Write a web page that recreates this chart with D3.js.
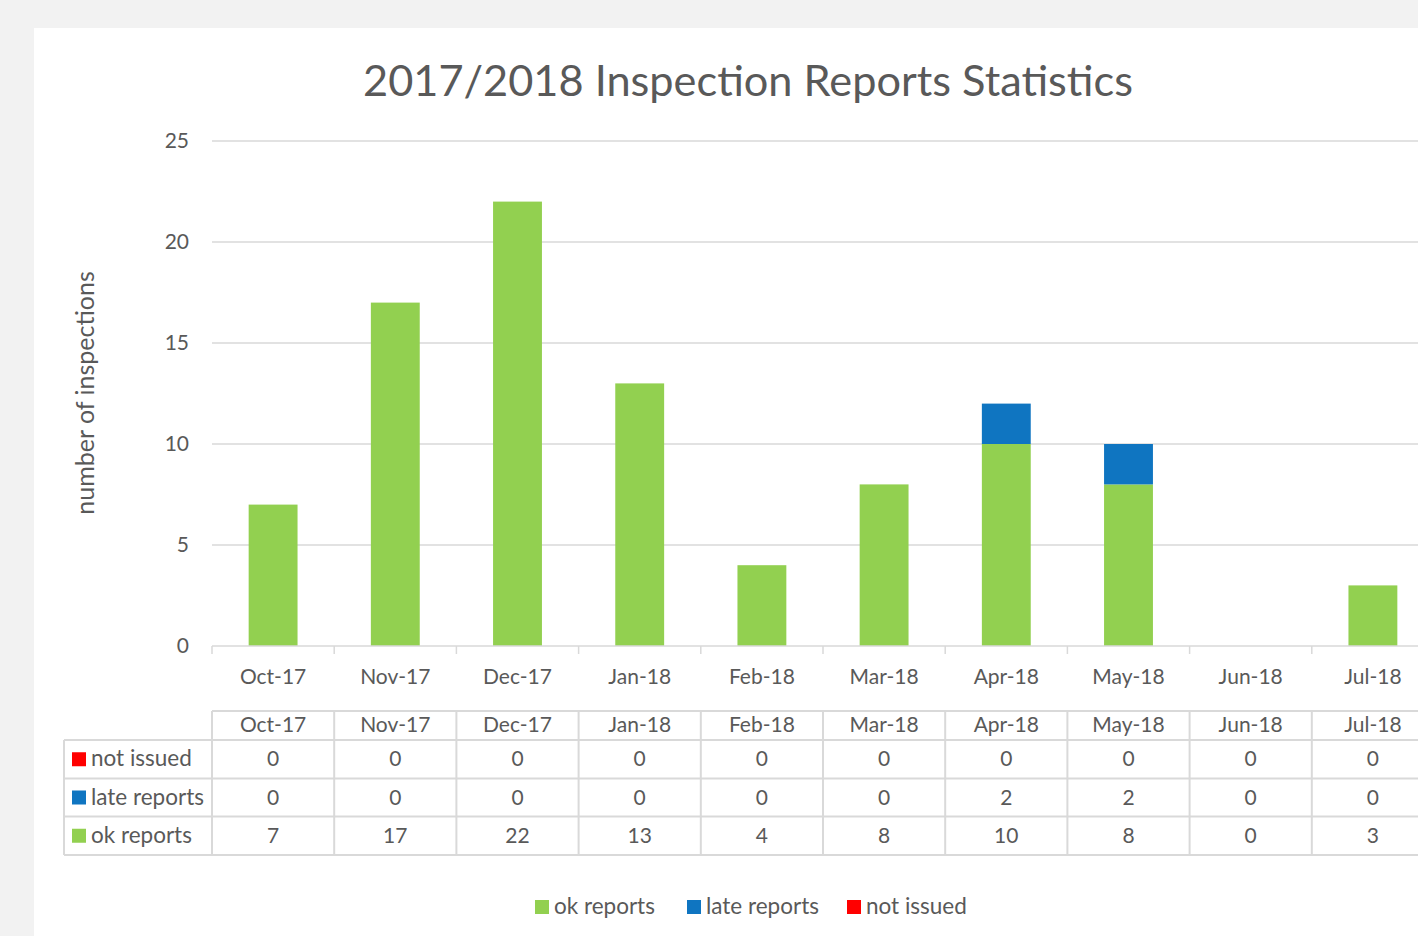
<!DOCTYPE html>
<html>
<head>
<meta charset="utf-8">
<script src="https://cdn.jsdelivr.net/npm/d3@7"></script>
<style>
  body { margin: 0; background: #f2f2f2; font-family: Lato, "Open Sans", sans-serif; }
  svg { display: block; }
</style>
</head>
<body>
<script>
// data
const months = ["Oct-17", "Nov-17", "Dec-17", "Jan-18", "Feb-18", "Mar-18", "Apr-18", "May-18", "Jun-18", "Jul-18"];
const okReports = [7, 17, 22, 13, 4, 8, 10, 8, 0, 3];
const lateReports = [0, 0, 0, 0, 0, 0, 2, 2, 0, 0];
const notIssued = [0, 0, 0, 0, 0, 0, 0, 0, 0, 0];
const yTicks = [0, 5, 10, 15, 20, 25];

const seriesNames = ["ok reports", "late reports", "not issued"];
const seriesColors = ["#92d050", "#0f75c1", "#ff0000"];

const w = 1418, h = 936;
const textColor = "#595959";
const gridColor = "#d9d9d9";

const rows = months.map((m, i) => ({
  month: m, "ok reports": okReports[i], "late reports": lateReports[i], "not issued": notIssued[i]
}));

const svg = d3.select("body").append("svg")
  .attr("width", w).attr("height", h);

// white chart panel
svg.append("rect")
  .attr("x", 34).attr("y", 28)
  .attr("width", w - 34).attr("height", h - 28)
  .attr("fill", "white");

const bandW = 122.2;
const x = d3.scaleBand()
  .domain(months)
  .range([212, 212 + bandW * months.length])
  .paddingInner(0.6).paddingOuter(0.3);
const y = d3.scaleLinear().domain([0, 25]).range([646, 141]);

// title
svg.append("text")
  .attr("x", 748).attr("y", 96)
  .attr("text-anchor", "middle")
  .attr("fill", textColor)
  .attr("font-size", 43.3)
  .text("2017/2018 Inspection Reports Statistics");

// grid lines
svg.append("g").selectAll("line")
  .data(yTicks.filter(d => d > 0))
  .join("line")
  .attr("x1", 212).attr("x2", w)
  .attr("y1", d => y(d)).attr("y2", d => y(d))
  .attr("stroke", gridColor).attr("stroke-width", 1.5);

// y axis
const yAxis = svg.append("g")
  .attr("transform", "translate(212,0)")
  .call(d3.axisLeft(y).tickValues(yTicks).tickSize(0).tickPadding(23));
yAxis.select(".domain").remove();
yAxis.selectAll("text")
  .attr("fill", textColor)
  .attr("font-size", 21)
  .attr("font-family", "Lato, sans-serif");

svg.append("text")
  .attr("transform", "translate(94,393) rotate(-90)")
  .attr("text-anchor", "middle")
  .attr("fill", textColor)
  .attr("font-size", 25)
  .text("number of inspections");

// stacked bars
const stack = d3.stack().keys(seriesNames)(rows);
svg.append("g").selectAll("g")
  .data(stack)
  .join("g")
  .attr("fill", (d, i) => seriesColors[i])
  .selectAll("rect")
  .data(d => d)
  .join("rect")
  .attr("x", d => x(d.data.month))
  .attr("width", x.bandwidth())
  .attr("y", d => y(d[1]))
  .attr("height", d => y(d[0]) - y(d[1]));

// x axis line and boundary ticks
const bounds = d3.range(months.length + 1).map(i => 212 + i * bandW);
svg.append("line")
  .attr("x1", 212).attr("x2", w)
  .attr("y1", y(0)).attr("y2", y(0))
  .attr("stroke", gridColor).attr("stroke-width", 1.5);
svg.append("g").selectAll("line")
  .data(bounds.filter(b => b <= w))
  .join("line")
  .attr("x1", d => d).attr("x2", d => d)
  .attr("y1", y(0)).attr("y2", y(0) + 8)
  .attr("stroke", gridColor).attr("stroke-width", 1.5);

const xCenter = m => x(m) + x.bandwidth() / 2;
svg.append("g").selectAll("text")
  .data(months)
  .join("text")
  .attr("x", d => xCenter(d))
  .attr("y", 684)
  .attr("text-anchor", "middle")
  .attr("fill", textColor)
  .attr("font-size", 21)
  .text(d => d);

// data table
const tableRows = [
  { name: "not issued", values: notIssued, color: seriesColors[2] },
  { name: "late reports", values: lateReports, color: seriesColors[1] },
  { name: "ok reports", values: okReports, color: seriesColors[0] }
];
const rowEdges = [711, 740, 778.5, 816.5, 855];
const table = svg.append("g");

// horizontal lines
table.selectAll("line.h")
  .data(rowEdges)
  .join("line")
  .attr("class", "h")
  .attr("x1", (d, i) => i === 0 ? 212 : 64).attr("x2", w)
  .attr("y1", d => d).attr("y2", d => d)
  .attr("stroke", gridColor).attr("stroke-width", 2);
// vertical lines
table.selectAll("line.v")
  .data(bounds.filter(b => b <= w))
  .join("line")
  .attr("class", "v")
  .attr("x1", d => d).attr("x2", d => d)
  .attr("y1", rowEdges[0]).attr("y2", rowEdges[4])
  .attr("stroke", gridColor).attr("stroke-width", 2);
table.append("line")
  .attr("x1", 64).attr("x2", 64)
  .attr("y1", rowEdges[1]).attr("y2", rowEdges[4])
  .attr("stroke", gridColor).attr("stroke-width", 2);

// header
table.selectAll("text.hd")
  .data(months)
  .join("text")
  .attr("class", "hd")
  .attr("x", d => xCenter(d))
  .attr("y", 732)
  .attr("text-anchor", "middle")
  .attr("fill", textColor)
  .attr("font-size", 21)
  .text(d => d);

tableRows.forEach((r, ri) => {
  const top = rowEdges[ri + 1], bot = rowEdges[ri + 2];
  const cy = (top + bot) / 2;
  table.append("rect")
    .attr("x", 72).attr("y", cy - 7)
    .attr("width", 14).attr("height", 14)
    .attr("fill", r.color);
  table.append("text")
    .attr("x", 91).attr("y", cy + 7)
    .attr("fill", textColor)
    .attr("font-size", 22.5)
    .text(r.name);
  table.selectAll(null)
    .data(r.values)
    .join("text")
    .attr("x", (d, i) => xCenter(months[i]))
    .attr("y", cy + 7)
    .attr("text-anchor", "middle")
    .attr("fill", textColor)
    .attr("font-size", 21)
    .text(d => d);
});

// legend
const legendItems = [
  { name: "ok reports", color: seriesColors[0], x: 535 },
  { name: "late reports", color: seriesColors[1], x: 687 },
  { name: "not issued", color: seriesColors[2], x: 847 }
];
const lg = svg.append("g").selectAll("g")
  .data(legendItems)
  .join("g")
  .attr("transform", d => "translate(" + d.x + ",900)");
lg.append("rect")
  .attr("width", 14).attr("height", 14)
  .attr("fill", d => d.color);
lg.append("text")
  .attr("x", 19).attr("y", 14)
  .attr("fill", textColor)
  .attr("font-size", 22.5)
  .text(d => d.name);
</script>
</body>
</html>
